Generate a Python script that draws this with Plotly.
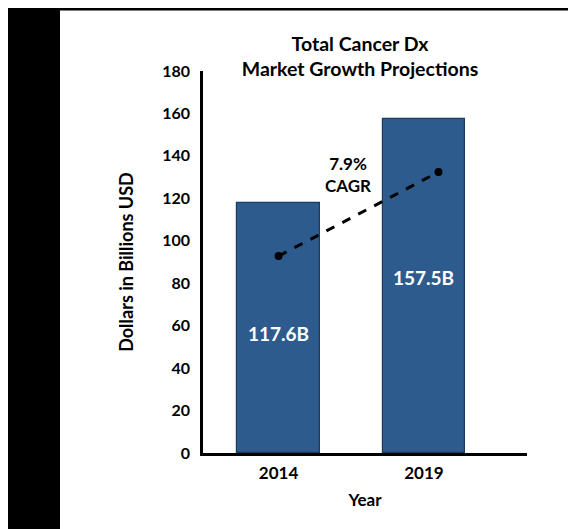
import plotly.graph_objects as go

# Data
categories = ["2014", "2019"]
cat_pos = [0, 1]
market_values = [117.6, 157.5]
bar_labels = ["117.6B", "157.5B"]
bar_label_y = [56.5, 82.5]
cagr_x = [0.0, 1.10]
cagr_y = [92.8, 132.4]
cagr_text = "7.9%<br>CAGR"
cagr_text_pos = (0.48, 131)
y_ticks = [0, 20, 40, 60, 80, 100, 120, 140, 160, 180]

FONT = "Lato"
BAR_COLOR = "#2D5B8D"

# The page body adds an 8px offset; work in reference pixels minus 8
OFF = 8
W, H = 576 - OFF, 529 - OFF
L = 203 - OFF
T = 71 - OFF
R = W - (527 - OFF)
B = H - (453 - OFF)
pw, ph = W - L - R, H - T - B
def px(x): return (x - OFF - L) / pw
def py(y): return (H - B - (y - OFF)) / ph

fig = go.Figure()
fig.add_trace(go.Bar(
    x=cat_pos, y=market_values, width=0.567,
    marker=dict(color=BAR_COLOR, line=dict(color="#1C3A60", width=1.2)),
    hoverinfo="skip", showlegend=False,
))
fig.add_trace(go.Scatter(
    x=cagr_x, y=cagr_y, mode="lines+markers",
    line=dict(color="black", width=3, dash="dash"),
    marker=dict(color="black", size=8),
    hoverinfo="skip", showlegend=False,
))

for xp, yp, t in zip(cat_pos, bar_label_y, bar_labels):
    fig.add_annotation(x=xp, y=yp, text=t, showarrow=False,
                       font=dict(family=FONT, size=19, color="white", weight="bold"))

fig.add_annotation(x=cagr_text_pos[0], y=cagr_text_pos[1], text=cagr_text,
                   showarrow=False, align="center",
                   font=dict(family=FONT, size=17, color="black", weight="bold"))

# Decorative black border (top line and left strip)
fig.add_shape(type="rect", xref="paper", yref="paper",
              x0=px(8), x1=px(577), y0=py(10.5), y1=py(7.5),
              fillcolor="black", line=dict(width=0), layer="above")
fig.add_shape(type="rect", xref="paper", yref="paper",
              x0=px(8), x1=px(60), y0=py(530), y1=py(8),
              fillcolor="black", line=dict(width=0), layer="above")

fig.update_layout(
    width=W, height=H,
    margin=dict(l=L, r=R, t=T, b=B, pad=0),
    paper_bgcolor="white", plot_bgcolor="white",
    font=dict(family=FONT, color="black"),
    title=dict(text="Total Cancer Dx<br>Market Growth Projections",
               x=px(360), xref="paper", xanchor="center",
               y=1 - (51 - OFF) / H, yref="container", yanchor="middle",
               font=dict(family=FONT, size=19.5, color="black", weight="bold")),
    bargap=0,
)
fig.update_xaxes(
    range=[-0.52, 1.709], tickvals=cat_pos, ticktext=categories,
    showline=True, linecolor="black", linewidth=2.5, showgrid=False,
    zeroline=False, ticks="", ticklabelstandoff=3,
    tickfont=dict(family=FONT, size=17, color="black", weight="bold"),
    title=dict(text="Year", standoff=12,
               font=dict(family=FONT, size=17, color="black", weight="bold")),
    fixedrange=True,
)
fig.update_yaxes(
    range=[0, 180], tickvals=y_ticks,
    showline=True, linecolor="black", linewidth=2.5, showgrid=False,
    zeroline=False, ticks="", ticklabelstandoff=7,
    tickfont=dict(family=FONT, size=16, color="black", weight="bold"),
    title=dict(text="Dollars in Billions USD", standoff=24,
               font=dict(family=FONT, size=18, color="black", weight="bold")),
    fixedrange=True,
)

fig.write_html("out.html", config={"displayModeBar": False})
